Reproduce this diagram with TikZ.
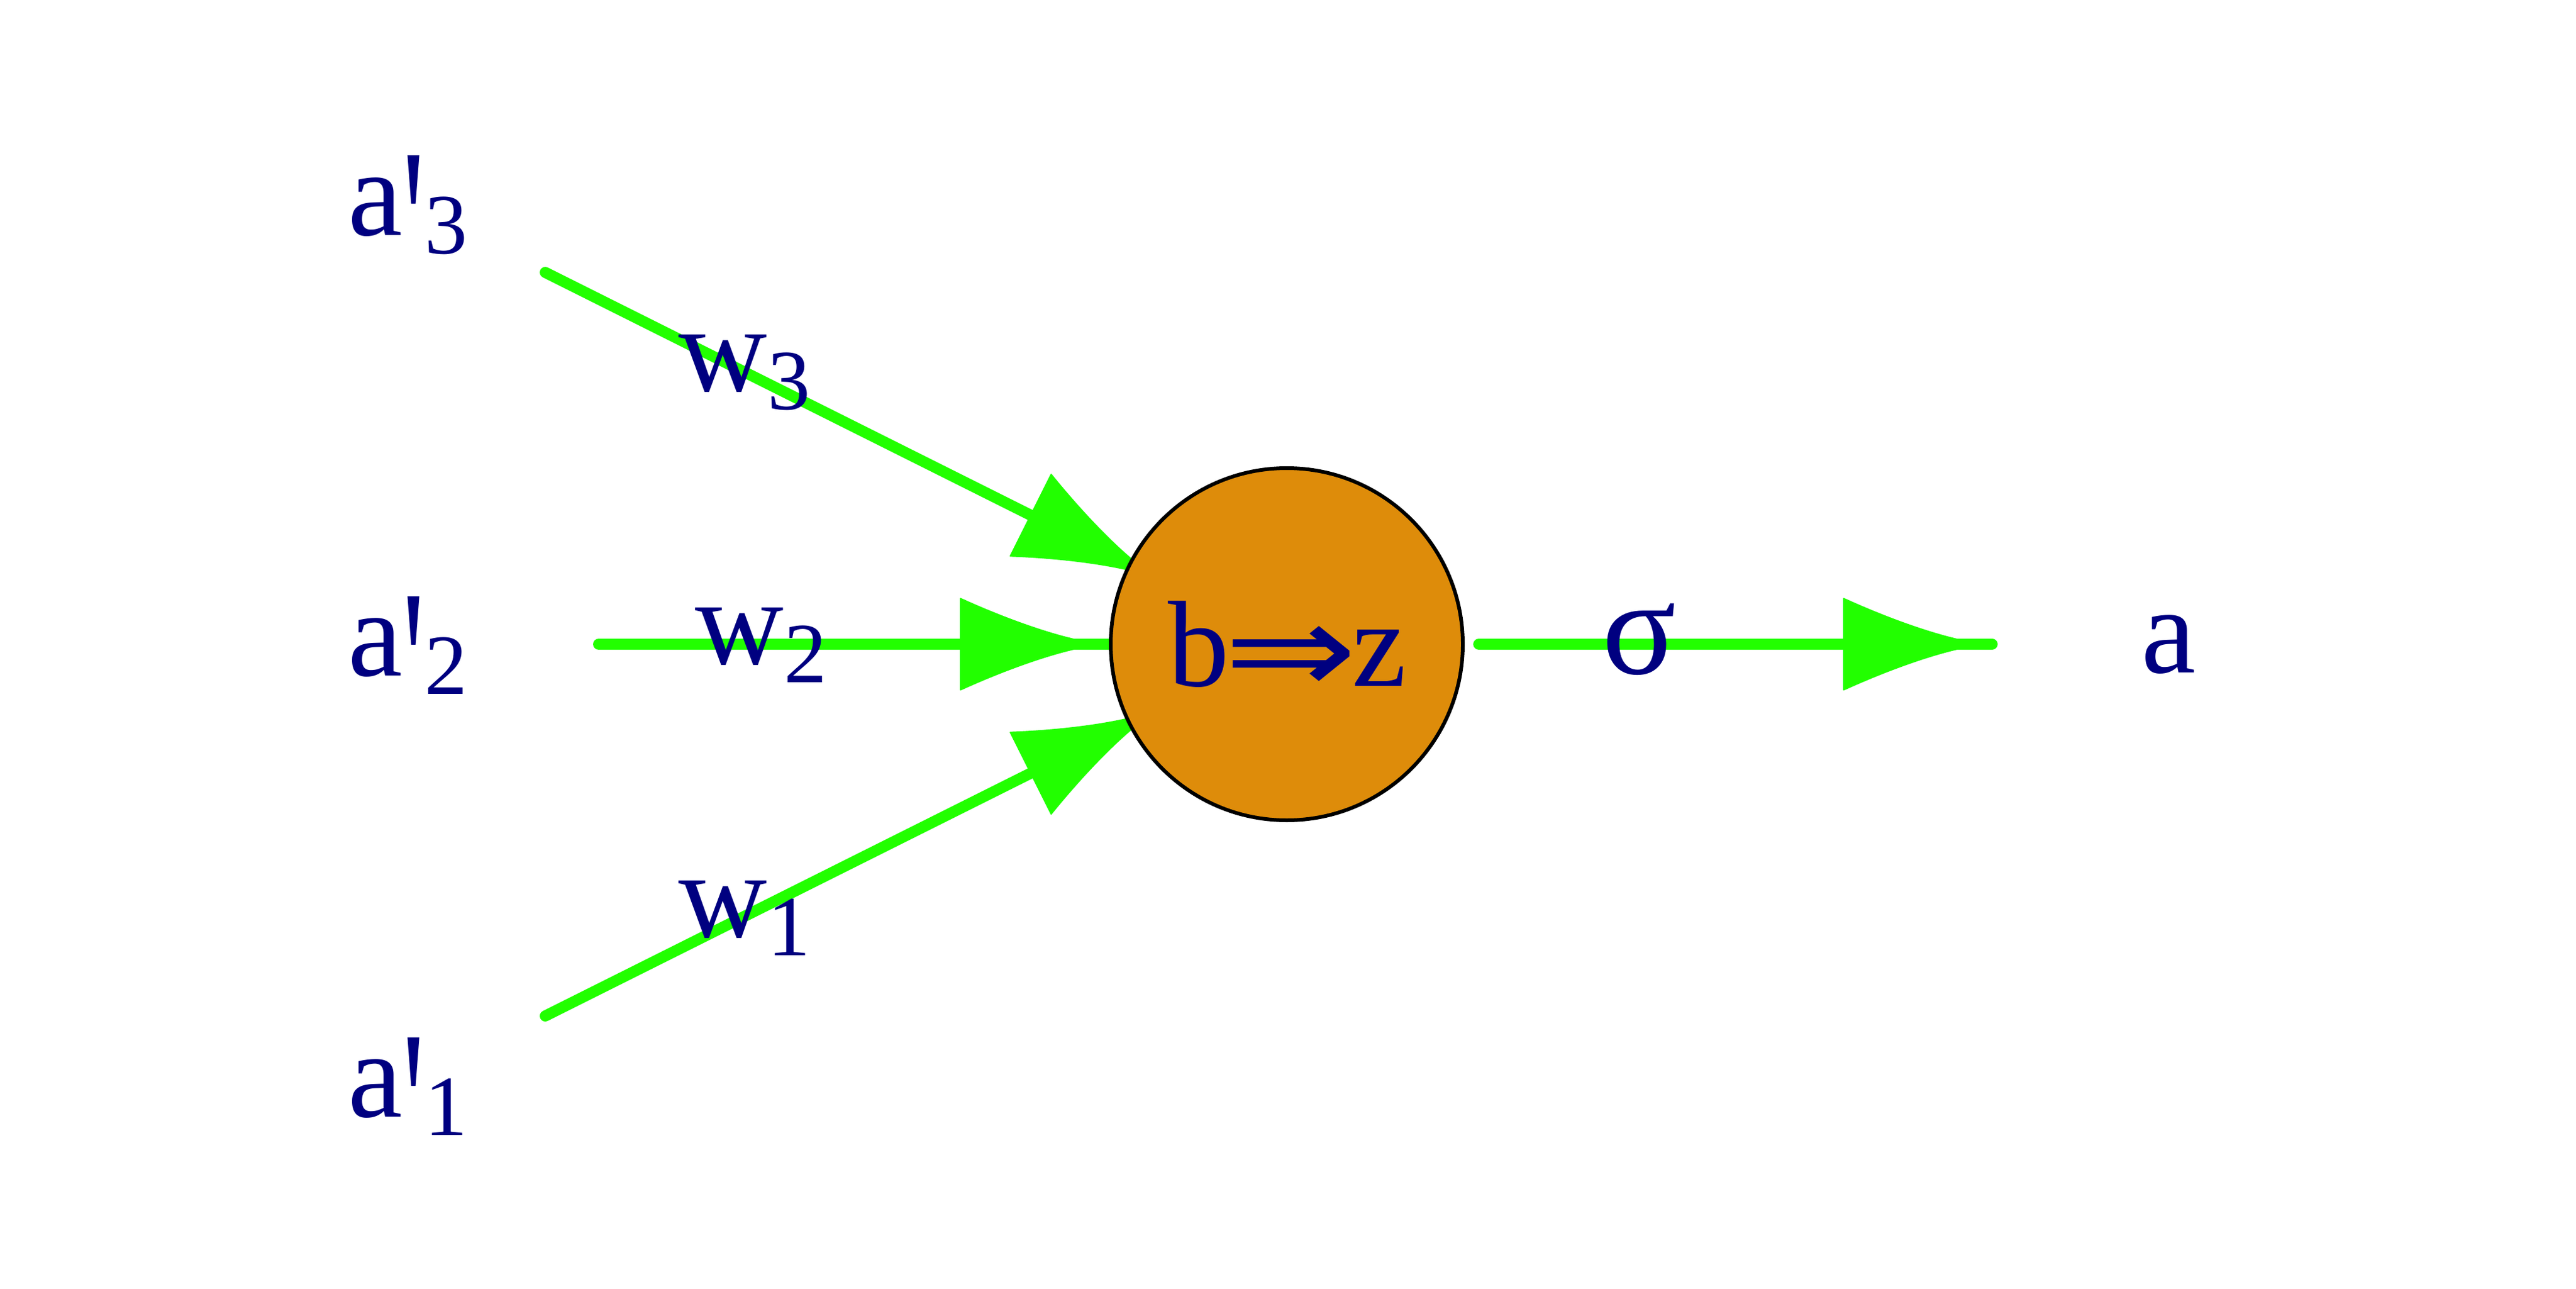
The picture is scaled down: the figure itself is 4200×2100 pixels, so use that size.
\documentclass[tikz,border=0pt]{standalone}
\usepackage{fontspec}
\setmainfont{Liberation Serif}[Ligatures=TeXOff]
\newfontfamily\arrowfont{DejaVu Sans}
\usetikzlibrary{decorations.markings,backgrounds}
\definecolor{edgegreen}{RGB}{34,255,0}
\definecolor{cellorange}{RGB}{222,140,10}
\definecolor{labelnavy}{RGB}{0,0,128}
\newcommand\bigtxt{\fontsize{56.9pt}{60pt}\selectfont}
\newcommand\lowsub[1]{\raisebox{-3mm}{\fontsize{39.8pt}{42pt}\selectfont #1}}
\newcommand\primemark{\raisebox{-9.1mm}{\scalebox{1}[1.68]{\char"27}}}
\newcommand\implarrow{\makebox[20mm]{\raisebox{-1.3mm}{\scalebox{1.3}[1.05]{\arrowfont ⇒}}}}
\tikzset{
  headshape/.style={fill=edgegreen, draw=edgegreen, line width=0.2mm, line join=round},
  edge/.style={draw=edgegreen, line width=1.8mm, line cap=round,
    postaction={decorate},
    decoration={markings, mark=at position 1 with {
      \path[headshape] (0,0) .. controls (-56,0) and (-161,37.5) .. (-242,74.5)
        -- (-242,-74.5) .. controls (-161,-37.5) and (-56,0) .. (0,0) -- cycle;}}},
  lbl/.style={text=labelnavy, inner sep=0pt, anchor=base west, font=\bigtxt},
  neuronstyle/.style={circle, draw=black, line width=0.6mm, fill=cellorange,
    minimum size=57.4mm, inner sep=0pt}
}
\begin{document}
\begin{tikzpicture}[x=0.1mm, y=-0.1mm]
\useasboundingbox (0,0) rectangle (4200,2100);
\node[neuronstyle] (neuron) at (2098,1050) {};
\node[text=labelnavy, inner sep=0pt, anchor=base, font=\bigtxt] (bz) at (2099,1118)
  {b\implarrow z};
\coordinate (s3) at (889,444);
\coordinate (t3) at (1897,948);
\coordinate (s1) at (889,1656);
\coordinate (t1) at (1897,1152);
\coordinate (s2) at (976,1050);
\coordinate (so) at (2411,1050);
\coordinate (to) at (3248,1050);
\begin{scope}[on background layer]
\draw[edge] (s3) -- (t3);
\draw[edge] (s1) -- (t1);
\draw[edge] (s2) -- (neuron.west);
\draw[edge] (so) -- (to);
\end{scope}
\node[lbl] (a3) at (567,383) {a\primemark\lowsub{3}};
\node[lbl] (a2) at (567,1101) {a\primemark\lowsub{2}};
\node[lbl] (a1) at (567,1820) {a\primemark\lowsub{1}};
\node[lbl] (w3) at (1106,637) {w\lowsub{3}};
\node[lbl] (w2) at (1133,1082) {w\lowsub{2}};
\node[lbl] (w1) at (1106,1527) {w\lowsub{1}};
\node[lbl] (sig) at (2612,1098) {\scalebox{1.12}{σ}};
\node[lbl] (out) at (3491,1096) {a};
\end{tikzpicture}
\end{document}
